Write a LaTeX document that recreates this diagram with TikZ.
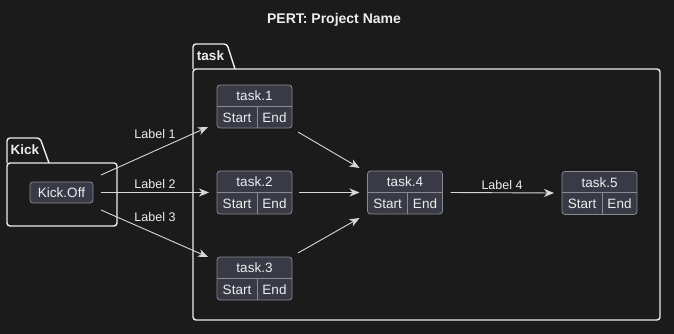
\documentclass[tikz,border=0pt]{standalone}
\usepackage{fontspec}
\setmainfont{Liberation Sans}
\usetikzlibrary{arrows.meta,calc}
\definecolor{bg}{HTML}{1B1B1B}
\definecolor{nodefill}{HTML}{3A3A46}
\definecolor{nodeline}{HTML}{8A8A94}
\definecolor{fg}{HTML}{EDEDED}
\definecolor{edgecol}{HTML}{D8D8D8}
\tikzset{
  cluster/.style={draw=fg, line width=1.4pt, rounded corners=3pt},
  clustertitle/.style={text=fg, font=\bfseries\fontsize{13.5}{15}\selectfont, inner sep=0pt},
  taskbox/.style={draw=nodeline, fill=nodefill, line width=0.8pt, rounded corners=3pt,
    minimum width=75pt, minimum height=43pt, inner sep=0pt, outer sep=0pt},
  kickbox/.style={draw=nodeline, fill=nodefill, line width=0.8pt, rounded corners=3pt,
    minimum width=63pt, minimum height=21pt, inner sep=0pt, outer sep=0pt, text=fg,
    font=\fontsize{13.5}{15}\selectfont},
  taskline/.style={draw=nodeline, line width=0.8pt},
  tasktext/.style={text=fg, font=\fontsize{13.5}{15}\selectfont, inner sep=0pt},
  edge/.style={draw=edgecol, line width=0.9pt, -{Stealth[length=10pt,width=8pt,inset=3pt]}},
  edgelabel/.style={text=fg, font=\fontsize{12.5}{14}\selectfont, inner sep=0pt},
}
\newcommand{\tasknode}[4]{%
  \node[taskbox, anchor=north west] (#1) at (#2,#3) {};
  \draw[taskline] ($(#1.north west)+(0,21)$) -- ($(#1.north east)+(0,21)$);
  \draw[taskline] ($(#1.north west)+(40,21)$) -- ($(#1.north west)+(40,43)$);
  \node[tasktext] (#1-t) at ($(#1.north)+(0,11)$) {#4};
  \node[tasktext] (#1-s) at ($(#1.north west)+(20,32.5)$) {Start};
  \node[tasktext] (#1-e) at ($(#1.north west)+(57.5,32.5)$) {End};
}
\begin{document}
\begin{tikzpicture}[x=1pt, y=-1pt]
  \fill[bg] (0,0) rectangle (674,334);
  \useasboundingbox (0,0) rectangle (674,334);
  % title
  \node[text=fg, font=\bfseries\fontsize{14}{16}\selectfont, inner sep=0pt] (title) at (334,20) {PERT: Project Name};
  % Kick cluster
  \draw[cluster] (7,163) -- (7,138) -- (40,138) -- (49,163);
  \draw[cluster] (7,163) rectangle (117,226);
  \node[clustertitle] (kicktitle) at (25,150) {Kick};
  % task cluster
  \draw[cluster] (193,69) -- (193,44) -- (227,44) -- (235,69);
  \draw[cluster] (193,69) rectangle (660,320);
  \node[clustertitle] (tasktitle) at (210.5,56) {task};
  % nodes
  \node[kickbox] (kick) at (61.5,192.5) {Kick.Off};
  \tasknode{t1}{217}{85}{task.1}
  \tasknode{t2}{217}{171}{task.2}
  \tasknode{t3}{217}{257}{task.3}
  \tasknode{t4}{367.5}{171}{task.4}
  \tasknode{t5}{562}{171.5}{task.5}
  % edges
  \draw[edge] ([shift={(8,-17.5)}]kick.east) -- ([shift={(-9,-1)}]t1.south west);
  \draw[edge] ([shift={(8,0)}]kick.east) -- ([shift={(-8,0)}]t2.west);
  \draw[edge] ([shift={(8,17.5)}]kick.east) -- ([shift={(-9,0)}]t3.north west);
  \draw[edge] ([shift={(6,4)}]t1.south east) -- ([shift={(-8,-3)}]t4.north west);
  \draw[edge] ([shift={(7,0)}]t2.east) -- ([shift={(-8,0)}]t4.west);
  \draw[edge] ([shift={(6,-4)}]t3.north east) -- ([shift={(-8,4)}]t4.south west);
  \draw[edge] ([shift={(8,0)}]t4.east) -- ([shift={(-8,0)}]t5.west);
  % labels
  \node[edgelabel] (l1) at (155,134) {Label 1};
  \node[edgelabel] (l2) at (155,184) {Label 2};
  \node[edgelabel] (l3) at (155,217) {Label 3};
  \node[edgelabel] (l4) at (502,185) {Label 4};
\end{tikzpicture}
\end{document}
